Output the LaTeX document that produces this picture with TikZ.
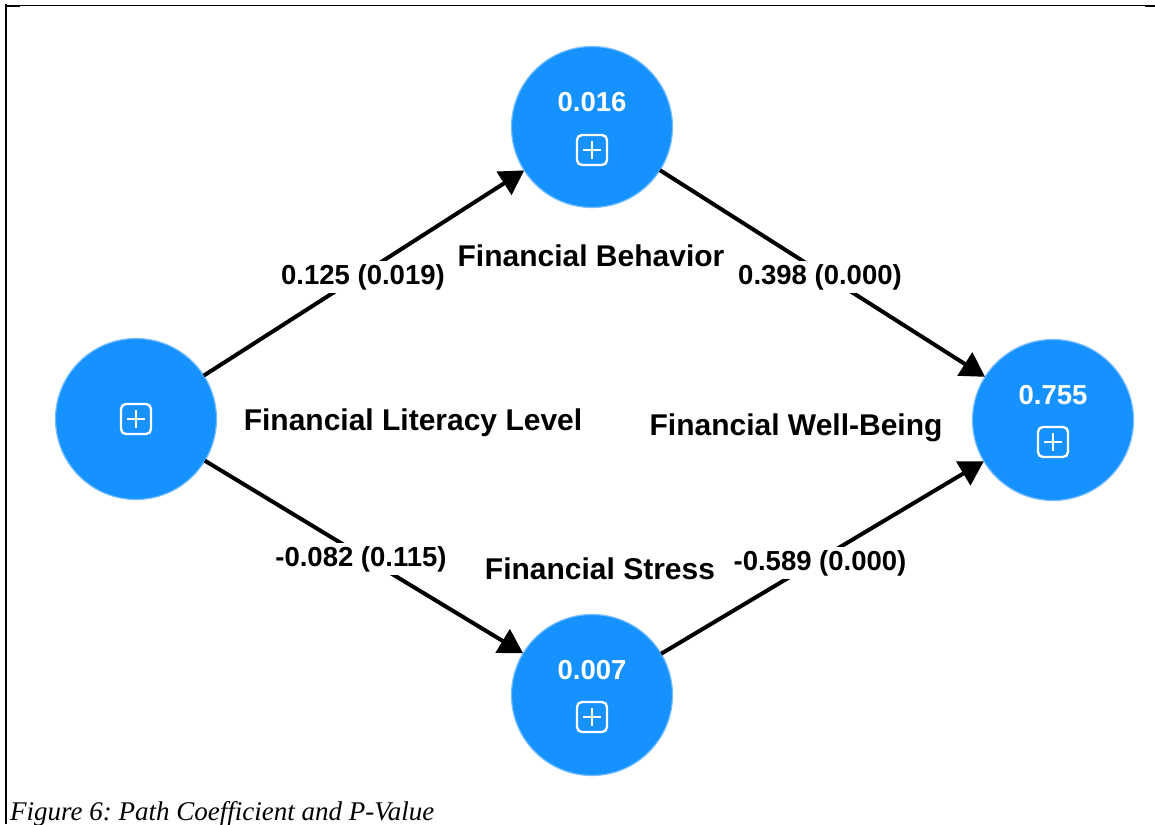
\documentclass[tikz,border=0pt]{standalone}
\usepackage{fontspec}
\setmainfont{Liberation Sans}
\newfontfamily\capfont{Liberation Serif}
\usetikzlibrary{arrows.meta}
\definecolor{nodeblue}{RGB}{21,146,255}
\definecolor{rimblue}{RGB}{120,190,255}
\frenchspacing
\newcommand\plusicon[2]{%
  \begin{scope}[shift={(#1,#2)}]
    \draw[white, line width=2.4pt, rounded corners=5pt] (-15,-15) rectangle (15,15);
    \draw[white, line width=2.4pt] (-9,0) -- (9,0) (0,-9) -- (0,9);
  \end{scope}}
\begin{document}
\begin{tikzpicture}[x=1pt,y=-1pt,
  latent/.style={circle, fill=nodeblue, draw=rimblue, line width=1.2pt, minimum size=161pt, inner sep=0pt, outer sep=0pt},
  lbl/.style={font=\fontsize{30}{30}\selectfont\bfseries, anchor=base, inner sep=0pt},
  val/.style={font=\fontsize{27.5}{27.5}\selectfont\bfseries, text=white, anchor=base, inner sep=0pt},
  coef/.style={font=\fontsize{27.5}{27.5}\selectfont\bfseries, fill=white, inner sep=3pt, anchor=base},
  link/.style={line width=4pt, -{Triangle[length=24pt,width=27pt]}},
  framethin/.style={line width=1.4pt},
  framethick/.style={line width=2.8pt}]
\useasboundingbox (0,0) rectangle (1155,824);
% frame
\draw[framethin] (6,5.5) -- (1155,5.5);
\draw[framethick] (6,4) -- (6,824);
\draw[framethick] (5,6) -- (20,6);
\draw[framethick] (1145,6) -- (1155,6);
% latent variables
\node[latent] (fll) at (136,419) {};
\node[latent] (fb) at (592,127) {};
\node[latent] (fs) at (592,695) {};
\node[latent] (fwb) at (1053,420) {};
% values and icons
\node[val] (vfb) at (592,111) {0.016};
\node[val] (vfs) at (592,679) {0.007};
\node[val] (vfwb) at (1053,404) {0.755};
\plusicon{136}{419}
\plusicon{592}{150}
\plusicon{592}{717}
\plusicon{1053}{442}
% connectors
\draw[link] (fll) -- (fb);
\draw[link] (fb) -- (fwb);
\draw[link] (fll) -- (fs);
\draw[link] (fs) -- (fwb);
% coefficient labels
\node[coef] (c1) at (363,284) {0.125 (0.019)};
\node[coef] (c2) at (820,284) {0.398 (0.000)};
\node[coef] (c3) at (361,566) {-0.082 (0.115)};
\node[coef] (c4) at (820,570) {-0.589 (0.000)};
% construct names
\node[lbl] (nfb) at (591,266) {Financial Behavior};
\node[lbl] (nfll) at (413,430) {Financial Literacy Level};
\node[lbl] (nfwb) at (796,435) {Financial Well-Being};
\node[lbl] (nfs) at (600,579) {Financial Stress};
% caption
\node[anchor=base west, inner sep=0pt, font=\capfont\itshape\fontsize{27}{27}\selectfont] (cap) at (10,820) {Figure 6: Path Coefficient and P-Value};
\end{tikzpicture}
\end{document}
